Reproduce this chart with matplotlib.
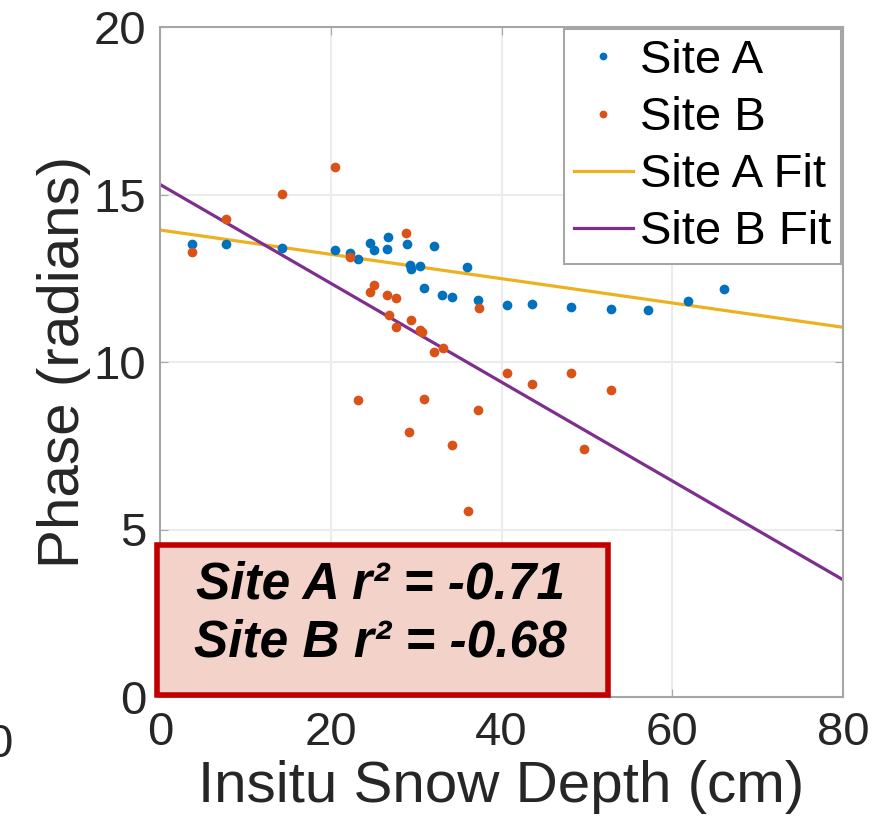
import matplotlib
matplotlib.use("Agg")
import matplotlib.pyplot as plt
from matplotlib.patches import Rectangle
import numpy as np

plt.rcParams['font.family'] = ['Liberation Sans', 'DejaVu Sans']

# Site A (blue) points
site_a_depth = [3.7, 7.7, 14.3, 20.5, 22.3, 23.2, 24.6, 25.1, 26.6, 26.7, 28.9,
                29.3, 29.4, 30.5, 30.9, 32.1, 33.0, 34.2, 36.0, 37.2, 40.7,
                43.6, 48.1, 52.8, 57.2, 61.8, 66.1]
site_a_phase = [13.53, 13.51, 13.41, 13.34, 13.26, 13.06, 13.55, 13.33, 13.38,
                13.72, 13.53, 12.91, 12.77, 12.86, 12.21, 13.46, 12.00, 11.94,
                12.83, 11.85, 11.70, 11.74, 11.64, 11.57, 11.55, 11.81, 12.18]

# Site B (orange) points
site_b_depth = [3.7, 7.7, 14.3, 20.5, 22.3, 24.6, 25.1, 26.6, 27.7, 28.8, 26.8,
                27.7, 29.4, 30.5, 30.7, 32.1, 33.1, 37.4, 23.2, 30.9, 29.2,
                34.2, 37.2, 36.1, 40.7, 43.6, 48.1, 52.8, 49.7]
site_b_phase = [13.29, 14.27, 15.01, 15.81, 13.12, 12.10, 12.31, 12.00, 11.91,
                13.84, 11.41, 11.03, 11.24, 10.97, 10.89, 10.31, 10.42, 11.60,
                8.87, 8.90, 7.91, 7.51, 8.56, 5.56, 9.67, 9.35, 9.67, 9.17, 7.41]

# fit lines (intercept, slope)
fit_a = (13.94, -0.0363)
fit_b = (15.30, -0.1475)
fit_x = np.array([0, 80])

x_ticks = [0, 20, 40, 60, 80]
y_ticks = [0, 5, 10, 15, 20]
r2_lines = ["Site A r\u00b2 = -0.71", "Site B r\u00b2 = -0.68"]

c_blue = '#0072BD'
c_orange = '#D95319'
c_yellow = '#EDB120'
c_purple = '#7E2F8E'
c_axis = '#a6a6a6'

fig = plt.figure(figsize=(8.89, 8.39), dpi=100)
ax = fig.add_axes([160 / 889, 1 - 697 / 839, 683 / 889, 670 / 839])

ax.plot(site_a_depth, site_a_phase, 'o', color=c_blue, ms=7, mec='none', label='Site A', zorder=3)
ax.plot(site_b_depth, site_b_phase, 'o', color=c_orange, ms=7, mec='none', label='Site B', zorder=3)
ax.plot(fit_x, fit_a[0] + fit_a[1] * fit_x, color=c_yellow, lw=2.3, label='Site A Fit', zorder=2)
ax.plot(fit_x, fit_b[0] + fit_b[1] * fit_x, color=c_purple, lw=2.3, label='Site B Fit', zorder=2)

ax.set_xlim(0, 80)
ax.set_ylim(0, 20)
ax.set_xticks(x_ticks)
ax.set_yticks(y_ticks)
ax.grid(True, color='#ececec', lw=1.5)
ax.set_axisbelow(True)
ax.tick_params(direction='in', length=6, color=c_axis, labelsize=34,
               labelcolor='#262626', pad=10, top=True, right=True)
for s in ax.spines.values():
    s.set_color(c_axis)
    s.set_linewidth(1.5)

ax.set_xlabel('Insitu Snow Depth (cm)', fontsize=42, color='#262626', labelpad=4)
ax.set_ylabel('Phase (radians)', fontsize=42, color='#262626', labelpad=2)

leg = ax.legend(loc='upper right', fontsize=34, frameon=True, fancybox=False,
                handlelength=1.25, handletextpad=0.15, borderpad=0.2,
                labelspacing=0.28, borderaxespad=0.05, markerscale=0.8)
leg.get_frame().set_edgecolor(c_axis)
leg.get_frame().set_linewidth(1.5)
leg.get_frame().set_alpha(1)

# r^2 annotation box
box = Rectangle((-0.4, 0.05), 52.9, 4.5, facecolor='#f3d2ca', edgecolor='#c00000',
                lw=4, clip_on=False, zorder=5)
ax.add_patch(box)
ax.text(25.8, 3.35, r2_lines[0], fontsize=37, fontweight='bold', fontstyle='italic',
        ha='center', va='center', zorder=6)
ax.text(25.8, 1.6, r2_lines[1], fontsize=37, fontweight='bold', fontstyle='italic',
        ha='center', va='center', zorder=6)

# cut-off tick label from a neighbouring panel
fig.text(12 / 889, 1 - 745 / 839, '0', fontsize=34, color='#262626', ha='right', va='center')

fig.savefig('out.png', dpi=100)
